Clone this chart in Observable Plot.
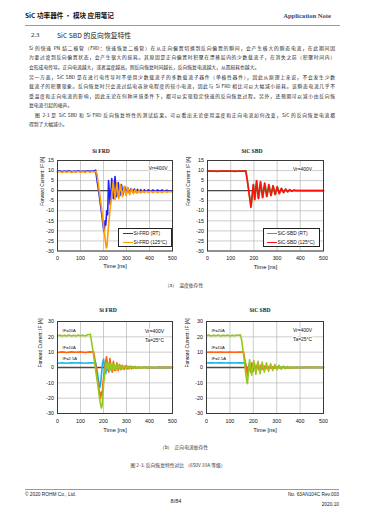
<!DOCTYPE html>
<html><head><meta charset="utf-8">
<script src="https://cdn.jsdelivr.net/npm/d3@7"></script>
<script src="https://cdn.jsdelivr.net/npm/@observablehq/plot@0.6"></script>
<style>
html,body{margin:0;padding:0;background:#fff;}
#page{position:relative;width:365px;height:514px;overflow:hidden;background:#fff;font-family:"Noto Sans CJK SC","Noto Sans",sans-serif;color:#222;}
.a{position:absolute;white-space:nowrap;}
.p{position:absolute;text-align:justify;text-align-last:justify;font-size:4.8px;line-height:6px;height:6px;color:#222;overflow:visible;}
.p.last{text-align-last:left;}
.legend{position:absolute;background:#fff;border:0.8px solid #222;box-sizing:border-box;font-family:"Liberation Sans",Arial,sans-serif;font-size:4.8px;color:#111;}
.legend .it{position:absolute;white-space:nowrap;line-height:6px;height:6px;}
.legend .sw{position:absolute;height:1.6px;}
</style></head>
<body><div id="page"></div>
<script>
// ---------- axis ticks ----------
const xTicks = [0, 100, 200, 300, 400, 500];
const yTicksTemp = [15, 10, 5, 0, -5, -10, -15, -20, -25, -30];
const yTicksCurr = [30, 20, 10, 0, -10, -20, -30];

// ---------- (a) temperature dependence : Si FRD ----------
const frdRT = [[0,9.6],[10,9.9],[20,9.4],[30,9.8],[40,9.5],[50,9.9],[60,9.4],[70,9.7],[80,9.5],[90,9.9],[100,9.4],[110,9.8],[120,9.5],[130,9.9],[140,9.6],[150,9.8],[160,9.7],[166,10.2],
 [172,5],[180,-1],[188,-8],[195,-14],[200,-19],[203,-20.5],[207,-15],[210,-17],[214,-10],[218,-12],[222,5],[229,-7],[236,6],[243,-4],[250,7],[257,-3],[264,4],[271,-2.5],[278,3],[285,-2],[292,2],[299,-1.5],[306,1.5],[313,-1.2],[320,1],[327,-0.8],[334,0.8],[341,-0.6],[348,0.6],[355,-0.5],[362,0.4],[370,-0.4],[378,0.4],[386,-0.3],[395,0.4],[405,-0.3],[415,0.3],[425,-0.3],[435,0.3],[445,-0.3],[455,0.3],[465,-0.3],[475,0.2],[485,-0.3],[500,0]];
const frd125 = [[0,9.2],[10,9.6],[20,9.0],[30,9.5],[40,9.1],[50,9.6],[60,9.0],[70,9.5],[80,9.2],[90,9.6],[100,9.1],[110,9.5],[120,9.0],[130,9.6],[140,9.2],[150,9.5],[160,9.3],[168,9.6],[172,8],
 [178,3],[186,-4],[194,-11],[202,-19],[208,-25],[212,-28.5],[215,-28],[220,-20],[228,-10],[235,-3],[242,4.5],[250,-4.5],[258,4],[266,-4],[274,3],[282,-3],[290,2],[298,-2.5],[306,1.5],[314,-2],[322,1],[330,-1.5],[338,0.5],[346,-1.3],[354,0],[362,-1.1],[370,-0.1],[378,-1],[386,-0.2],[395,-0.9],[405,-0.3],[415,-0.9],[425,-0.3],[435,-0.9],[445,-0.4],[455,-0.9],[465,-0.3],[475,-0.8],[485,-0.4],[500,-0.6]];

// ---------- (a) temperature dependence : SiC SBD ----------
const sbdRT = [[0,9.8],[20,9.7],[40,9.8],[60,9.7],[80,9.8],[100,9.7],[120,9.8],[140,9.7],[160,9.8],[166,9.9],[172,5.5],[179,-1],[185,-5.5],[189,-7.5],[199,3],[205,-4.2],[213,4.6],[221,-3.8],[230,4.2],[239,-3.3],[248,3.6],[257,-2.8],[266,2.8],[275,-2.3],[284,2.3],[293,-1.8],[302,1.8],[311,-1.4],[320,1.1],[329,-0.9],[338,0.7],[347,-0.5],[356,0.4],[365,-0.3],[374,0.2],[390,0],[420,0.1],[460,0],[500,0]];
const sbd125 = [[0,9.7],[20,9.8],[40,9.6],[60,9.8],[80,9.7],[100,9.8],[120,9.6],[140,9.8],[160,9.7],[164,10],[170,6],[177,0.5],[183,-5],[187,-8.3],[197,3],[203,-4.5],[211,5],[219,-4],[228,4.5],[237,-3.5],[246,3.8],[255,-3],[264,3],[273,-2.5],[282,2.5],[291,-2],[300,2],[309,-1.5],[318,1.2],[327,-1],[336,0.8],[345,-0.6],[354,0.5],[363,-0.3],[372,0.3],[381,0],[400,0.1],[430,0],[460,0.1],[500,0]];

// ---------- (b) forward current dependence : Si FRD ----------
const frd2A5 = [[0,2.8],[20,3.1],[40,2.8],[60,3.1],[80,2.9],[100,3.1],[120,2.8],[140,3.1],[160,2.9],[166,3.2],[172,-2],[178,-8],[184,-13],[188,-10],[192,-3],[196,3],[200,5.5],[205,0],[210,-4],[215,2],[220,-2],[226,1.5],[232,-1.5],[240,1],[248,-1],[256,0.8],[265,-0.7],[275,0.6],[285,-0.5],[295,0.4],[310,-0.3],[330,0.3],[350,-0.2],[380,0.2],[410,-0.2],[440,0.1],[470,-0.1],[500,0]];
const frd10A = [[0,9.8],[20,10.2],[40,9.8],[60,10.2],[80,9.9],[100,10.2],[120,9.8],[140,10.2],[150,10],[157,10.4],[163,5],[170,-3],[177,-11],[183,-17],[187,-20],[190,-16],[194,-18],[198,-10],[203,-3],[208,3],[213,7],[218,1],[223,-3],[228,6],[233,0],[238,-3],[243,4],[248,-2],[253,-2],[258,3],[264,-2],[270,2],[276,-1.5],[282,1.5],[290,-1.2],[298,1.2],[306,-1],[314,0.8],[322,-0.8],[332,0.6],[342,-0.5],[352,0.4],[365,-0.4],[378,0.3],[392,-0.3],[406,0.2],[420,-0.2],[440,0.2],[460,-0.1],[480,0.1],[500,0]];
const frd20A = [[0,20.6],[10,21.2],[20,20.5],[30,21.1],[40,20.6],[50,21.2],[60,20.5],[70,21],[80,20.6],[90,21.2],[100,20.7],[110,21.1],[120,20.6],[130,21.3],[138,21.5],[143,21.8],[148,17],[155,10],[162,2],[169,-5],[176,-12],[182,-19],[187,-24],[191,-26.5],[194,-25],[197,-18],[201,-10],[205,-4],[209,1],[213,3],[217,-1],[221,3],[225,-2],[229,2.5],[233,-1.5],[237,2.5],[241,-1.5],[246,2],[251,-1.5],[256,1.8],[261,-1.2],[267,1.5],[273,-1.2],[279,1.2],[285,-1],[292,1],[299,-0.9],[306,0.9],[314,-0.8],[322,0.8],[330,-0.7],[338,0.7],[347,-0.6],[356,0.6],[365,-0.5],[375,0.5],[385,-0.5],[395,0.4],[405,-0.4],[415,0.4],[425,-0.4],[435,0.3],[445,-0.3],[455,0.3],[465,-0.3],[475,0.3],[485,-0.2],[500,0]];

// ---------- (b) forward current dependence : SiC SBD ----------
const sbd2A5 = [[0,2.9],[20,3.1],[40,2.9],[60,3.1],[80,2.9],[100,3.1],[120,2.9],[140,3.1],[160,3],[165,3.2],[171,0],[176,-2],[181,1.5],[186,-1],[192,1],[198,-0.8],[205,0.6],[212,-0.5],[220,0.4],[230,-0.3],[245,0.2],[260,-0.2],[280,0.1],[320,0],[400,0],[500,0]];
const sbd10A = [[0,9.9],[20,10.1],[40,9.9],[60,10.1],[80,9.9],[100,10.1],[120,9.9],[140,10.1],[152,10],[158,10.3],[164,5],[170,0],[175,-5.5],[180,-2],[184,3],[189,-3],[194,3],[199,-2.5],[205,2.5],[211,-2],[217,2],[224,-1.5],[231,1.5],[238,-1.2],[246,1],[254,-0.8],[262,0.7],[270,-0.6],[280,0.5],[290,-0.4],[300,0.3],[315,-0.2],[330,0.2],[350,-0.1],[400,0],[450,0.1],[500,0]];
const sbd20A = [[0,20.7],[10,21.2],[20,20.6],[30,21.1],[40,20.7],[50,21.2],[60,20.6],[70,21.1],[80,20.7],[90,21.2],[100,20.6],[110,21.1],[120,20.7],[130,21.2],[140,21],[145,21.3],[150,18],[156,11],[162,4],[167,-3],[172,-9],[175,-10.5],[184,5],[193,-5],[202,4.5],[211,-4.5],[220,4],[229,-4],[238,3.5],[247,-3],[256,3],[265,-2.5],[274,2.5],[283,-2],[292,2],[301,-1.5],[310,1.5],[319,-1.2],[328,1],[337,-0.8],[346,0.7],[355,-0.6],[364,0.5],[373,-0.4],[383,0.4],[393,-0.3],[403,0.3],[413,-0.3],[425,0.3],[437,-0.2],[449,0.3],[461,-0.2],[473,0.2],[485,-0.2],[500,0]];

// ---------- series metadata ----------
const tempNamesFRD = ["Si-FRD (RT)", "Si-FRD (125°C)"];
const tempNamesSBD = ["SiC-SBD (RT)", "SiC-SBD (125°C)"];
const currLabels = ["IF=20A", "IF=10A", "IF=2.5A"];
const currLevels = [21, 10, 3];

// ---------- page text ----------
const headerLeft = "SiC 功率器件 · 模块 应用笔记";
const headerRight = "Application Note";
const sectionNo = "2.3";
const sectionTitle = "SiC SBD 的反向恢复特性";
const bodyLines = [
 "Si 的快速 PN 结二极管（FRD：快速恢复二极管）在从正向偏置切换到反向偏置的瞬间，会产生极大的瞬态电流，在此期间因",
 "为要过渡到反向偏置状态，会产生很大的损耗。其原因是正向偏置时积聚在漂移层内的少数载流子，在消失之前（积聚时间内）",
 "会形成电传导。正向电流越大，或者温度越高，则反向恢复时间越长，反向恢复电流越大，从而损耗也越大。",
 "另一方面，SiC SBD 是在进行电传导时不使用少数载流子的多数载流子器件（单极性器件），因此从原理上来说，不会发生少数",
 "载流子的积聚现象。反向恢复时只会流过结电容放电程度的较小电流，因此与 Si FRD 相比可以大幅减小损耗。该瞬态电流几乎不",
 "受温度和正向电流的影响，因此无论在何种环境条件下，都可以实现稳定快速的反向恢复过程。另外，还预期可以减小由反向恢",
 "复电流引起的噪声。",
 "图 2-3 是 SiC SBD 和 Si FRD 反向恢复特性的测试结果。可以看出无论使用温度和正向电流如何改变，SiC 的反向恢复电流都",
 "得到了大幅减小。"
];
const captionA = "（a）&nbsp; 温度依存性";
const captionB = "（b）&nbsp; 正向电流依存性";
const figCaption = "图 2-3. 反向恢复特性对比 （650V 10A 等级）";

// ---------- layout helpers ----------
const page = document.getElementById("page");
function T(html, x, y, size, anchor, style) {
  const d = document.createElement("div");
  d.className = "a";
  d.innerHTML = html;
  d.style.left = x + "px";
  d.style.top = (y - size * 0.6) + "px";
  d.style.fontSize = size + "px";
  d.style.lineHeight = (size * 1.2) + "px";
  if (anchor === "middle") d.style.transform = "translateX(-50%)";
  if (anchor === "end") d.style.transform = "translateX(-100%)";
  Object.assign(d.style, style || {});
  page.appendChild(d);
  return d;
}
function rule(x0, x1, y, h, color) {
  const d = document.createElement("div");
  d.className = "a";
  Object.assign(d.style, {left: x0 + "px", top: (y - h / 2) + "px", width: (x1 - x0) + "px", height: h + "px", background: color});
  page.appendChild(d);
}

// header
T(headerLeft, 25, 15.5, 6.6, "start", {fontWeight: "700", color: "#111"});
T(headerRight, 331, 15.5, 6.6, "end", {fontFamily: "'Liberation Serif',serif", fontWeight: "700", color: "#3d4670"});
rule(25, 340, 25.5, 1.6, "#9a9a9a");
T(sectionNo, 31, 35, 6.8, "start", {fontFamily: "'Liberation Serif',serif", color: "#222"});
T(sectionTitle, 57, 35, 6.8, "start", {color: "#222"});

// body
const bodyY = [47.5, 57, 66.5, 76.5, 86, 95.5, 105, 114.5, 124];
const bodyX = [29, 29, 29, 29, 29, 29, 29, 35, 29];
const lastIdx = [2, 6, 8];
bodyLines.forEach((txt, i) => {
  const d = document.createElement("div");
  d.className = "p" + (lastIdx.includes(i) ? " last" : "");
  d.textContent = txt;
  d.style.left = bodyX[i] + "px";
  d.style.width = (335 - bodyX[i]) + "px";
  d.style.top = (bodyY[i] - 3) + "px";
  page.appendChild(d);
});

// ---------- chart builder ----------
function sub(main, s) {
  return `<tspan font-style="italic">${main}</tspan><tspan font-size="3.4" dy="0.9">${s}</tspan><tspan dy="-0.9">`;
}
function makeChart(c) {
  const mL = 26, mR = 6, mT = 6, mB = 24;
  const fw = c.frame[2] - c.frame[0], fh = c.frame[3] - c.frame[1];
  const marks = [
    Plot.gridX(xTicks, {stroke: "#b8b8b8", strokeOpacity: 1, strokeWidth: 0.7}),
    Plot.gridY(c.yTicks, {stroke: "#b8b8b8", strokeOpacity: 1, strokeWidth: 0.7}),
    Plot.ruleY([0], {stroke: "#4a4a4a", strokeWidth: 1.4})
  ];
  for (const s of c.series) {
    marks.push(Plot.line(s.pts, {x: d => d[0], y: d => d[1], stroke: s.color, strokeWidth: 1.6, strokeLinejoin: "round"}));
  }
  marks.push(Plot.frame({stroke: "#3a3a3a", strokeWidth: 1}));
  marks.push(Plot.axisX(xTicks, {tickSize: 0, tickPadding: c.xPad, fontSize: 5.3, label: null, tickFormat: d => String(d)}));
  marks.push(Plot.axisY(c.yTicks, {tickSize: 0, tickPadding: 3.5, fontSize: 5.3, label: null, tickFormat: d => String(d)}));
  marks.push(Plot.text(["Time [ns]"], {text: d => d, frameAnchor: "bottom", dy: c.tDy, fontSize: 5.8}));
  marks.push(Plot.text(["Forward Current: IF [A]"], {text: d => d, frameAnchor: "left", rotate: -90, dx: c.ylabDx, fontSize: 4.8, ariaLabel: "ylab"}));
  c.annot.forEach((a, i) => {
    marks.push(Plot.text([a], {text: d => d, frameAnchor: "top-right", dx: c.annDx, dy: c.annDy + i * 9, textAnchor: "middle", fontSize: 4.9, stroke: "white", strokeWidth: 2.2, fill: "#111", ariaLabel: "ann"}));
  });
  if (c.ifLabels) {
    const lab = currLabels.map((l, i) => ({l, y: currLevels[i]}));
    marks.push(Plot.text(lab, {text: d => d.l, y: d => d.y, frameAnchor: "left", dx: 5, dy: -4.6, textAnchor: "start", fontSize: 4.1, fill: "#111", ariaLabel: "iflab"}));
  }
  const svg = Plot.plot({
    width: mL + fw + mR, height: mT + fh + mB,
    marginLeft: mL, marginRight: mR, marginTop: mT, marginBottom: mB,
    x: {domain: [0, 500]},
    y: {domain: c.yDomain},
    style: {background: "transparent", overflow: "visible", fontFamily: "'Liberation Sans',Arial,sans-serif", color: "#111"},
    marks
  });
  svg.querySelectorAll('g[aria-label="ylab"] text').forEach(t => {
    t.innerHTML = `Forward Current: ${sub("I", "F")} [A]</tspan>`;
  });
  svg.querySelectorAll('g[aria-label="ann"] text').forEach(t => {
    const s = t.textContent;
    if (s.startsWith("Vr")) t.innerHTML = `${sub("V", "r")}${s.slice(2)}</tspan>`;
  });
  svg.querySelectorAll('g[aria-label="iflab"] text').forEach(t => {
    const s = t.textContent;
    t.innerHTML = `${sub("I", "F")}${s.slice(2)}</tspan>`;
  });
  const holder = document.createElement("div");
  holder.className = "a";
  holder.style.left = (c.frame[0] - mL) + "px";
  holder.style.top = (c.frame[1] - mT) + "px";
  holder.appendChild(svg);
  page.appendChild(holder);
}
function legend(box, items, sw0, sw1, tx) {
  const d = document.createElement("div");
  d.className = "legend";
  Object.assign(d.style, {left: box[0] + "px", top: box[1] + "px", width: (box[2] - box[0]) + "px", height: (box[3] - box[1]) + "px"});
  items.forEach((it, i) => {
    const yc = 4.6 + i * 9;
    const s = document.createElement("div");
    s.className = "sw";
    Object.assign(s.style, {left: sw0 + "px", width: (sw1 - sw0) + "px", top: (yc - 0.8) + "px", background: it.color});
    d.appendChild(s);
    const t = document.createElement("div");
    t.className = "it";
    t.textContent = it.name;
    Object.assign(t.style, {left: tx + "px", top: (yc - 3) + "px"});
    d.appendChild(t);
  });
  page.appendChild(d);
}

// ---------- colours ----------
const cBlue = "#2020ff", cAmber = "#ff9c00", cGreen = "#55a855", cRed = "#ff1010";
const cLime = "#96c81e", cOrange = "#ff6410", cCyan = "#12b4ee";

// (a) Si FRD
makeChart({frame: [57, 159.5, 172, 250], yDomain: [-30, 15], yTicks: yTicksTemp, xPad: 5, tDy: 17, ylabDx: -15,
  series: [{pts: frdRT, color: cBlue}, {pts: frd125, color: cAmber}],
  annot: ["Vr=400V"], annDx: -14.5, annDy: 6});
legend([118, 228, 171.5, 246.5], [{name: tempNamesFRD[0], color: cBlue}, {name: tempNamesFRD[1], color: cAmber}], 3.5, 13.5, 14.5);

// (a) SiC SBD
makeChart({frame: [207, 160, 323, 250.5], yDomain: [-30, 15], yTicks: yTicksTemp, xPad: 5, tDy: 18, ylabDx: -19,
  series: [{pts: sbdRT, color: cGreen}, {pts: sbd125, color: cRed}],
  annot: ["Vr=400V"], annDx: -21, annDy: 7});
legend([263, 228, 319.5, 246.5], [{name: tempNamesSBD[0], color: cGreen}, {name: tempNamesSBD[1], color: cRed}], 3, 12.5, 13.5);

// (b) Si FRD
makeChart({frame: [57, 321, 172, 413], yDomain: [-30, 30], yTicks: yTicksCurr, xPad: 6, tDy: 18, ylabDx: -17,
  series: [{pts: frd2A5, color: cCyan}, {pts: frd10A, color: cOrange}, {pts: frd20A, color: cLime}],
  annot: ["Vr=400V", "Ta=25°C"], annDx: -18, annDy: 8, ifLabels: true});

// (b) SiC SBD
makeChart({frame: [206, 321, 323, 413], yDomain: [-30, 30], yTicks: yTicksCurr, xPad: 6, tDy: 18, ylabDx: -19,
  series: [{pts: sbd2A5, color: cCyan}, {pts: sbd10A, color: cOrange}, {pts: sbd20A, color: cLime}],
  annot: ["Vr=400V", "Ta=25°C"], annDx: -21, annDy: 7, ifLabels: true});

// chart titles
T("Si FRD", 101, 151, 5.6, "middle", {fontFamily: "'Liberation Serif',serif", fontWeight: "700", color: "#222"});
T("SiC SBD", 252, 151, 5.6, "middle", {fontFamily: "'Liberation Serif',serif", fontWeight: "700", color: "#222"});
T("Si FRD", 108, 310.5, 5.6, "middle", {fontFamily: "'Liberation Serif',serif", fontWeight: "700", color: "#222"});
T("SiC SBD", 260, 310.5, 5.6, "middle", {fontFamily: "'Liberation Serif',serif", fontWeight: "700", color: "#222"});

// captions
T(captionA, 184, 284.5, 4.8, "middle", {color: "#333"});
T(captionB, 184, 446.5, 4.8, "middle", {color: "#333"});
T(figCaption, 178, 464.5, 4.8, "middle", {color: "#333"});

// footer
rule(25, 339, 489.5, 1.4, "#9a9a9a");
T("© 2020 ROHM Co., Ltd.", 25, 494.5, 4.8, "start", {fontFamily: "'Liberation Sans',Arial,sans-serif", color: "#222"});
T("No. 63AN104C Rev.003", 339, 494.5, 4.8, "end", {fontFamily: "'Liberation Sans',Arial,sans-serif", color: "#222"});
T("8/84", 176, 501, 5.6, "middle", {fontFamily: "'Liberation Sans',Arial,sans-serif", color: "#222"});
T("2020.10", 339, 505, 4.8, "end", {fontFamily: "'Liberation Sans',Arial,sans-serif", color: "#222"});
</script>
</body></html>
